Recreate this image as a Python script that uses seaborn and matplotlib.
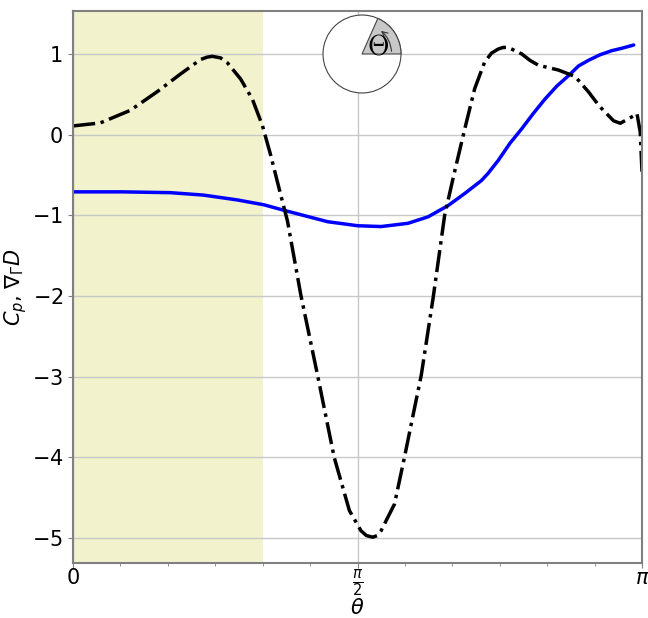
import numpy as np
import pandas as pd
import seaborn as sns
import matplotlib.pyplot as plt
from matplotlib.patches import Circle, Wedge

sns.set_style("ticks")
plt.rcParams['font.family'] = ['DejaVu Sans']

# pressure coefficient (dash-dot)
theta_cp = [0.000, 0.150, 0.316, 0.464, 0.593, 0.704, 0.741, 0.769, 0.815, 0.852,
            0.925, 0.990, 1.046, 1.092, 1.147, 1.184, 1.258, 1.350, 1.442, 1.526,
            1.590, 1.620, 1.655, 1.680, 1.701, 1.775, 1.830, 1.923, 1.988, 2.052,
            2.107, 2.163, 2.218, 2.273, 2.311, 2.348, 2.375, 2.403, 2.477, 2.523,
            2.569, 2.680, 2.772, 2.846, 2.883, 2.920, 2.985, 3.022, 3.086, 3.114,
            3.132, 3.1416]
cp = [0.107, 0.144, 0.30, 0.53, 0.75, 0.93, 0.96, 0.97, 0.95, 0.89,
      0.69, 0.44, 0.11, -0.26, -0.75, -1.07, -1.99, -2.98, -4.0, -4.66,
      -4.91, -4.97, -4.99, -4.97, -4.91, -4.58, -4.0, -2.98, -2.03, -1.0,
      -0.46, 0.07, 0.57, 0.90, 1.01, 1.06, 1.08, 1.08, 1.00, 0.92,
      0.86, 0.80, 0.72, 0.53, 0.42, 0.32, 0.17, 0.14, 0.22, 0.26,
      0.03, -0.46]

# shape gradient (solid blue)
theta_grad = [0.000, 0.270, 0.537, 0.720, 0.907, 1.053, 1.184, 1.406, 1.572, 1.701,
              1.849, 1.960, 2.071, 2.163, 2.255, 2.292, 2.348, 2.412, 2.477, 2.541,
              2.606, 2.671, 2.736, 2.791, 2.846, 2.911, 2.975, 3.031, 3.096]
grad = [-0.71, -0.71, -0.72, -0.75, -0.81, -0.87, -0.95, -1.08, -1.13, -1.14,
        -1.10, -1.02, -0.88, -0.73, -0.57, -0.48, -0.32, -0.11, 0.07, 0.26,
        0.44, 0.60, 0.73, 0.85, 0.92, 0.99, 1.04, 1.07, 1.11]

xtick_vals = [0, np.pi / 2, np.pi]
xtick_labels = ["0", r"$\frac{\pi}{2}$", r"$\pi$"]
shade_end = np.pi / 3

df_cp = pd.DataFrame({"theta": theta_cp, "val": cp})
df_grad = pd.DataFrame({"theta": theta_grad, "val": grad})

fig = plt.figure(figsize=(6.48, 6.18), dpi=100)
ax = fig.add_axes([0.1127, 0.0890, 0.878, 0.8930])

ax.axvspan(0, shade_end, color="y", alpha=0.2, lw=0, zorder=0)
sns.lineplot(data=df_grad, x="theta", y="val", ax=ax, color="blue", lw=2.5,
             estimator=None, sort=False)
sns.lineplot(data=df_cp, x="theta", y="val", ax=ax, color="black", lw=2.5,
             linestyle="-.", estimator=None, sort=False)

ax.set_xlim(0, np.pi)
ax.set_ylim(-5.31, 1.53)
ax.set_xticks(xtick_vals)
ax.set_xticklabels(xtick_labels)
ax.set_xticks(np.arange(0, np.pi + 0.01, np.pi / 12), minor=True)
ax.set_yticks(range(-5, 2))
ax.set_yticklabels([f"$-${-v}" if v < 0 else str(v) for v in range(-5, 2)])
ax.tick_params(labelsize=15, color="gray", labelcolor="black")
ax.tick_params(axis="x", pad=0)
ax.tick_params(which="minor", color="gray")
ax.grid(True, color="#c8c8c8", lw=1)
for s in ax.spines.values():
    s.set_color("gray")
    s.set_linewidth(1.5)
ax.set_xlabel(r"$\theta$", fontsize=15, labelpad=-1, color="black")
ax.set_ylabel(r"$C_p$, $\nabla_\Gamma D$", fontsize=15, color="black", labelpad=2)

# small cylinder sketch
ins = fig.add_axes([(362 - 46) / 648, 1 - (54 + 46) / 618, 92 / 648, 92 / 618])
ins.set_xlim(-1.18, 1.18)
ins.set_ylim(-1.18, 1.18)
ins.set_aspect("equal")
ins.axis("off")
ins.add_patch(Circle((0, 0), 1, facecolor="white", edgecolor="#444444", lw=0.8))
ins.add_patch(Wedge((0, 0), 1, 0, 66, facecolor="#c8c8c8", edgecolor="#444444", lw=0.8))
ins.annotate("", xy=(0.77 * np.cos(np.radians(56)), 0.77 * np.sin(np.radians(56))),
             xytext=(0.76, 0),
             arrowprops=dict(arrowstyle="->", color="#333333", lw=0.8,
                             connectionstyle="arc3,rad=0.25"))
ins.text(0.42, 0.2, r"$\Theta$", fontsize=20, math_fontfamily="cm",
         ha="center", va="center", color="black")

plt.savefig("out.png", dpi=100)
